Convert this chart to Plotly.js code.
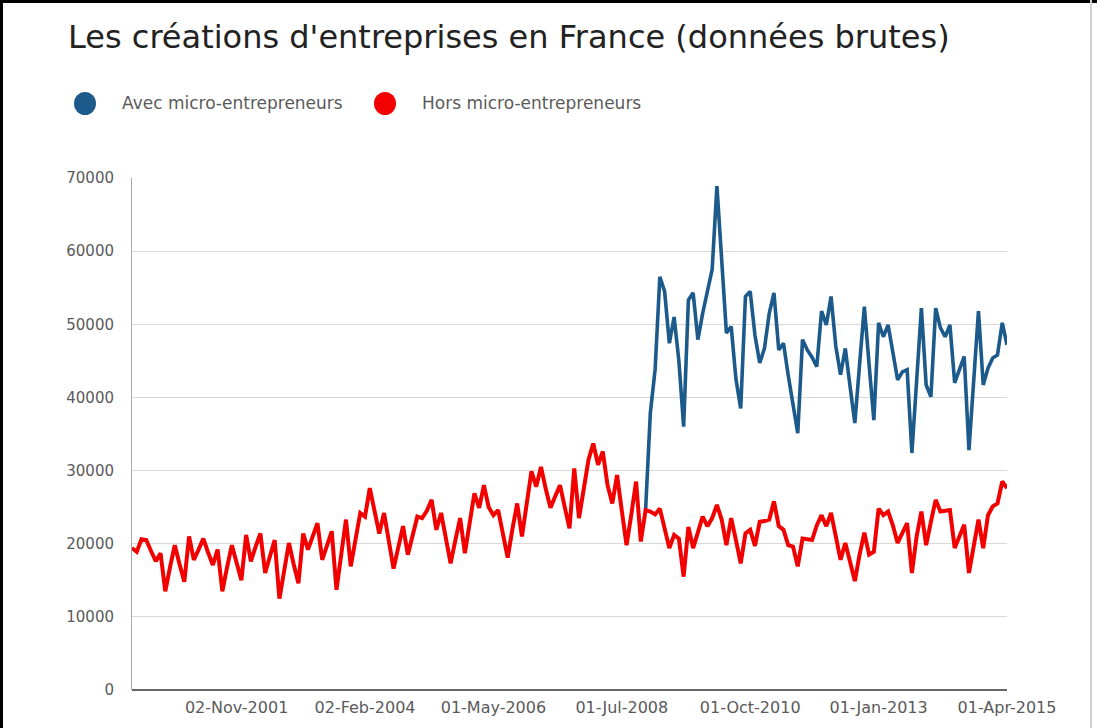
<!DOCTYPE html>
<html>
<head>
<meta charset="utf-8">
<script src="https://cdn.plot.ly/plotly-3.0.1.min.js"></script>
<style>
  html, body { margin: 0; padding: 0; background: #fff; }
  #chart { width: 1097px; height: 728px; }
</style>
</head>
<body>
<div id="chart"></div>
<script>
// Monthly categories: index 0 = Jan 2000 ... index 184 = Apr 2015
const tickIndex = [22, 49, 76, 103, 130, 157, 184];
const tickLabels = ["02-Nov-2001", "02-Feb-2004", "01-May-2006", "01-Jul-2008", "01-Oct-2010", "01-Jan-2013", "01-Apr-2015"];

// "Hors micro-entrepreneurs" (red), one value per category
const horsMicro = [
  19400, 18900, 20600, 20500, 19000, 17600, 18700, 13500, 16800, 19800, 17200, 14800,
  21000, 17800, 19200, 20700, 18800, 17100, 19200, 13500, 16800, 19800, 17400, 15000,
  21200, 17600, 19600, 21400, 16000, 18300, 20500, 12500, 16500, 20100, 17200, 14600,
  21400, 19200, 21000, 22800, 17800, 19800, 21700, 13700, 18500, 23300, 16900, 20500,
  24200, 23700, 27600, 24500, 21400, 24200, 20500, 16600, 19500, 22400, 18500, 21000,
  23700, 23500, 24500, 26000, 21900, 24200, 21000, 17300, 20500, 23500, 18700, 23000,
  26900, 24900, 28000, 25000, 23900, 24600, 21500, 18100, 22000, 25500, 21000, 25500,
  29900, 27800, 30500, 27500, 24900, 26500, 28000, 25000, 22100, 30300, 23500, 27500,
  31500, 33700, 30800, 32600, 28000, 25500, 29400, 24500, 19800, 24000, 28500, 20300,
  24600, 24400, 24000, 24800, 22000, 19400, 21200, 20700, 15500, 22300, 19400, 21500,
  23700, 22400, 23500, 25300, 23300, 19800, 23500, 20500, 17300, 21400, 21900, 19700,
  23000, 23100, 23300, 25800, 22400, 21900, 19800, 19600, 16900, 20700, 20600, 20500,
  22500, 23900, 22400, 24200, 21000, 17800, 20100, 17500, 14900, 18500, 21500, 18500,
  18900, 24800, 23900, 24400, 22500, 20100, 21500, 22800, 16000, 21000, 24400, 19800,
  23000, 26000, 24400, 24500, 24600, 19400, 21000, 22600, 16000, 20000, 23300, 19400,
  23900, 25100, 25500, 28500, 27600
];

// "Avec micro-entrepreneurs" (blue), starts at category index 108 (Dec 2008)
const avecStart = 108;
const avecMicro = [
  24600, 37900, 43800, 56500, 54500, 47400, 51000, 45000, 36000, 53300, 54300, 47900,
  51500, 54800, 57500, 68900, 58800, 48800, 49700, 42500, 38500, 53800, 54500, 48500,
  44700, 46700, 51500, 54300, 46500, 47400, 43000, 39000, 35100, 47900, 46500, 45500,
  44200, 51800, 49900, 53800, 47000, 43100, 46700, 41500, 36500, 44500, 52400, 44500,
  36900, 50200, 48300, 49900, 46000, 42400, 43500, 43800, 32400, 42000, 52200, 41700,
  40100, 52200, 49500, 48300, 49900, 42000, 44000, 45600, 32800, 42000, 51800, 41700,
  44000, 45400, 45800, 50200, 47200
];

const seriesNames = ["Avec micro-entrepreneurs", "Hors micro-entrepreneurs"];
const seriesColors = ["#1c5a8b", "#f20000"];

const xHors = horsMicro.map((_, i) => i);
const xAvec = avecMicro.map((_, i) => avecStart + i);

const traces = [
  { x: xAvec, y: avecMicro, type: "scatter", mode: "lines", name: seriesNames[0],
    line: { color: seriesColors[0], width: 3.6 }, hoverinfo: "x+y" },
  { x: xHors, y: horsMicro, type: "scatter", mode: "lines", name: seriesNames[1],
    line: { color: seriesColors[1], width: 4 }, hoverinfo: "x+y" }
];

// layout geometry
const W = 1097, H = 728;
const M = { l: 132, r: 90, t: 178, b: 38 };
const PW = W - M.l - M.r, PH = H - M.t - M.b;
const px = v => (v - M.l) / PW;          // pixel x -> paper x
const py = v => (H - M.b - v) / PH;      // pixel y -> paper y

const font = "DejaVu Sans, Verdana, sans-serif";

const layout = {
  width: W, height: H,
  margin: { l: M.l, r: M.r, t: M.t, b: M.b, pad: 0 },
  paper_bgcolor: "#ffffff", plot_bgcolor: "#ffffff",
  showlegend: false,
  title: {
    text: "Les créations d'entreprises en France (données brutes)",
    xref: "container", yref: "container",
    x: 68 / W, xanchor: "left",
    y: 1 - 37 / H, yanchor: "middle",
    font: { family: font, size: 32, color: "#222222" }
  },
  xaxis: {
    range: [0, 184],
    tickmode: "array", tickvals: tickIndex, ticktext: tickLabels,
    showgrid: false, zeroline: false, showline: false, ticks: "",
    ticklabelstandoff: 6,
    tickfont: { family: font, size: 16, color: "#5a5a5a" },
    fixedrange: true
  },
  yaxis: {
    range: [0, 70000], dtick: 10000, tickformat: "d",
    showgrid: true, gridcolor: "#d8d8d8", gridwidth: 1,
    showline: true, linecolor: "#a8a8a8", linewidth: 1,
    zeroline: true, zerolinecolor: "#666666", zerolinewidth: 1.5,
    ticks: "", ticklabelstandoff: 14,
    tickfont: { family: font, size: 15, color: "#5a5a5a" },
    fixedrange: true
  },
  shapes: [
    // legend markers
    { type: "circle", xref: "paper", yref: "paper",
      x0: px(74), x1: px(96), y0: py(115), y1: py(92),
      fillcolor: seriesColors[0], line: { width: 0 } },
    { type: "circle", xref: "paper", yref: "paper",
      x0: px(374), x1: px(396), y0: py(115), y1: py(92),
      fillcolor: seriesColors[1], line: { width: 0 } },
    // frame of the screenshot
    { type: "line", xref: "paper", yref: "paper",
      x0: px(1.5), x1: px(1.5), y0: py(0), y1: py(H),
      line: { color: "#000000", width: 3 } },
    { type: "line", xref: "paper", yref: "paper",
      x0: px(0), x1: px(W), y0: py(1.5), y1: py(1.5),
      line: { color: "#000000", width: 3 } },
    { type: "line", xref: "paper", yref: "paper",
      x0: px(1091), x1: px(1091), y0: py(0), y1: py(H),
      line: { color: "#d0d0d0", width: 2 } }
  ],
  annotations: [
    { xref: "paper", yref: "paper", x: px(120), y: py(103),
      xanchor: "left", yanchor: "middle", showarrow: false,
      text: seriesNames[0], font: { family: font, size: 17, color: "#5a5a5a" } },
    { xref: "paper", yref: "paper", x: px(420), y: py(103),
      xanchor: "left", yanchor: "middle", showarrow: false,
      text: seriesNames[1], font: { family: font, size: 17, color: "#5a5a5a" } }
  ]
};

Plotly.newPlot("chart", traces, layout, { displayModeBar: false, staticPlot: true });
</script>
</body>
</html>
